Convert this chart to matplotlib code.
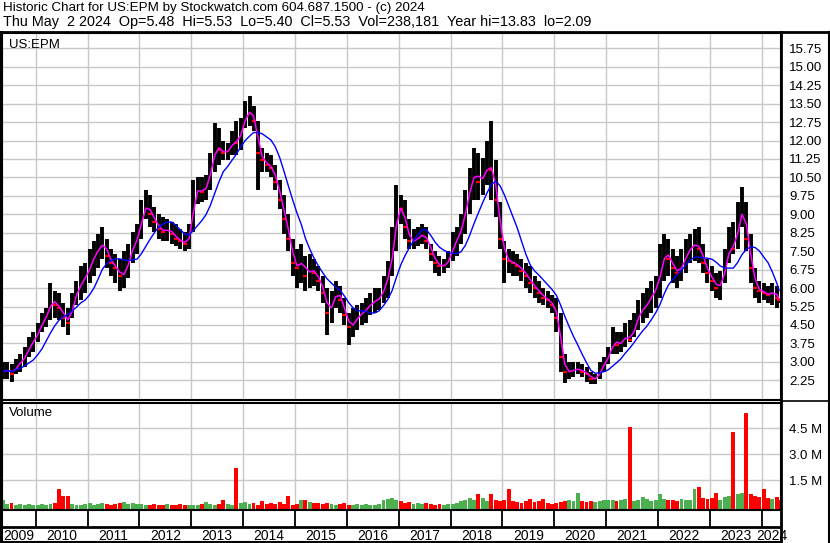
import matplotlib.pyplot as plt
from matplotlib.lines import Line2D
import numpy as np
import pandas as pd

plt.rcParams['font.family'] = ['Liberation Sans', 'DejaVu Sans']

# monthly bars, May 2009 .. May 2024
months = pd.date_range('2009-05-01', '2024-05-01', freq='MS')
last_day = pd.Timestamp('2024-05-02')

hi = [3.0, 3.0, 2.9, 3.1, 3.3, 3.6, 4.0, 4.2,
      4.6, 5.0, 5.2, 6.2, 5.9, 5.8, 5.4, 5.2, 5.8, 6.3, 6.9, 7.0,
      7.6, 7.9, 8.2, 8.5, 8.0, 7.6, 7.4, 7.2, 7.5, 7.8, 8.3, 8.6,
      9.6, 10.0, 9.8, 9.3, 9.0, 8.9, 8.8, 8.7, 8.6, 8.4, 8.3, 8.6,
      10.4, 10.5, 10.5, 10.6, 11.5, 12.7, 12.5, 12.0, 11.9, 12.4, 12.8, 12.9,
      13.6, 13.83, 13.4, 12.8, 11.7, 11.5, 11.4, 11.0, 10.4, 9.8, 9.0, 8.0,
      7.6, 7.8, 7.3, 7.4, 7.2, 6.9, 6.5, 6.0, 5.9, 6.3, 6.1, 5.6,
      5.0, 5.2, 5.3, 5.4, 5.6, 5.8, 6.0, 6.0, 6.5, 7.1, 8.5, 10.2,
      9.8, 9.6, 8.8, 8.4, 8.5, 8.6, 8.5, 7.8, 7.5, 7.3, 7.2, 7.5,
      8.3, 8.5, 9.0, 10.0, 10.9, 11.7, 11.5, 11.3, 12.0, 12.8, 11.2, 9.5,
      7.9, 7.6, 7.5, 7.4, 7.2, 7.0, 6.9, 6.5, 6.3, 6.0, 5.9, 5.7,
      5.6, 5.0, 3.3, 3.0, 3.0, 3.0, 2.9, 2.8, 2.6, 2.5, 3.0, 3.2,
      3.6, 4.4, 4.2, 4.2, 4.6, 4.7, 5.0, 5.5, 5.8, 6.0, 6.3, 6.5,
      7.8, 8.2, 8.0, 7.6, 7.3, 7.6, 8.0, 8.2, 8.4, 8.5, 7.8, 7.2,
      6.9, 6.6, 6.7, 7.6, 8.5, 8.7, 9.5, 10.1, 9.5, 8.2, 6.8, 6.3,
      6.2, 6.1, 6.2, 6.1, 5.53]

lo = [2.3, 2.3, 2.2, 2.5, 2.6, 2.8, 3.2, 3.4,
      3.8, 4.2, 4.4, 4.7, 4.8, 4.7, 4.4, 4.1, 4.8, 5.3, 5.5, 5.8,
      6.2, 6.5, 6.8, 7.2, 6.8, 6.5, 6.2, 5.9, 6.0, 6.4, 7.0, 7.4,
      8.0, 8.8, 8.5, 8.3, 8.0, 7.9, 7.9, 7.8, 7.7, 7.6, 7.5, 7.6,
      8.3, 9.4, 9.5, 9.6, 10.0, 10.7, 11.0, 11.2, 11.2, 11.4, 11.4, 11.6,
      12.5, 12.6, 12.4, 10.0, 10.7, 10.7, 10.5, 10.0, 9.2, 8.2, 7.5, 6.5,
      6.0, 6.2, 5.9, 6.0, 6.1, 5.9, 5.4, 4.1, 4.6, 5.2, 5.0, 4.5,
      3.7, 4.0, 4.3, 4.5, 4.6, 4.9, 5.0, 5.1, 5.4, 5.6, 6.5, 7.5,
      8.6, 8.0, 7.6, 7.6, 7.7, 7.8, 7.6, 7.1, 6.6, 6.5, 6.6, 6.8,
      7.1, 7.3, 7.8, 8.2, 9.0, 9.6, 9.6, 9.8, 10.2, 9.6, 8.9, 7.6,
      6.2, 6.6, 6.5, 6.5, 6.3, 6.0, 5.8, 5.6, 5.4, 5.3, 5.2, 5.0,
      4.2, 2.6, 2.15, 2.3, 2.4, 2.5, 2.4, 2.2, 2.1, 2.09, 2.3, 2.6,
      2.9, 3.3, 3.3, 3.4, 3.6, 3.8, 4.0, 4.3, 4.6, 4.8, 5.0, 5.2,
      5.6, 6.3, 6.5, 6.2, 6.0, 6.3, 6.6, 7.0, 7.1, 7.0, 6.6, 6.2,
      5.9, 5.6, 5.5, 6.2, 7.0, 7.4, 7.6, 8.5, 7.5, 6.2, 5.6, 5.4,
      5.5, 5.4, 5.3, 5.2, 5.40]

cl = [2.6, 2.7, 2.5, 2.9, 3.0, 3.3, 3.7, 3.9,
      4.3, 4.7, 4.9, 5.6, 5.3, 5.2, 4.8, 4.6, 5.5, 5.9, 6.3, 6.5,
      7.0, 7.4, 7.6, 7.9, 7.3, 7.0, 6.8, 6.5, 6.6, 7.3, 7.8, 8.1,
      9.1, 9.4, 9.0, 8.7, 8.4, 8.3, 8.4, 8.2, 8.0, 7.9, 7.8, 8.2,
      9.9, 10.0, 9.9, 10.2, 11.0, 11.8, 11.6, 11.5, 11.6, 12.0, 11.9, 12.5,
      13.1, 13.2, 12.8, 11.5, 11.2, 11.0, 10.9, 10.3, 9.6, 8.8, 8.0, 7.0,
      6.8, 7.2, 6.5, 6.8, 6.6, 6.3, 5.8, 5.0, 5.4, 5.9, 5.5, 4.9,
      4.4, 4.6, 4.9, 5.0, 5.2, 5.4, 5.5, 5.6, 6.1, 6.6, 7.8, 9.3,
      9.2, 8.5, 7.9, 7.9, 8.1, 8.2, 7.9, 7.4, 7.0, 6.9, 6.9, 7.2,
      7.8, 8.1, 8.5, 9.5, 10.2, 10.8, 10.3, 10.6, 11.0, 10.8, 9.6, 8.0,
      7.2, 7.1, 7.0, 6.9, 6.7, 6.5, 6.2, 6.0, 5.8, 5.6, 5.5, 5.3,
      4.8, 3.2, 2.6, 2.6, 2.7, 2.7, 2.6, 2.5, 2.3, 2.3, 2.7, 3.0,
      3.3, 3.9, 3.7, 3.8, 4.1, 3.9, 4.5, 5.0, 5.2, 5.4, 5.8, 6.0,
      6.9, 7.5, 7.2, 6.8, 6.6, 7.0, 7.4, 7.7, 7.8, 7.6, 7.0, 6.6,
      6.3, 6.0, 6.2, 7.0, 7.8, 7.6, 8.8, 9.2, 8.0, 6.8, 6.0, 5.9,
      5.8, 5.7, 5.9, 5.6, 5.53]

# volume in millions of shares
vol = [0.40, 0.15, 0.20, 0.10, 0.15, 0.10, 0.15, 0.10,
       0.10, 0.15, 0.10, 0.15, 0.20, 1.00, 0.63, 0.60, 0.15, 0.10, 0.10, 0.15,
       0.20, 0.10, 0.15, 0.20, 0.15, 0.10, 0.15, 0.20, 0.25, 0.15, 0.20, 0.15,
       0.15, 0.10, 0.10, 0.15, 0.10, 0.10, 0.15, 0.10, 0.10, 0.15, 0.10, 0.10,
       0.10, 0.10, 0.15, 0.25, 0.15, 0.10, 0.15, 0.35, 0.15, 0.10, 2.20, 0.20,
       0.25, 0.15, 0.20, 0.10, 0.30, 0.15, 0.20, 0.15, 0.25, 0.15, 0.63, 0.10,
       0.15, 0.35, 0.40, 0.25, 0.20, 0.20, 0.15, 0.20, 0.15, 0.10, 0.15, 0.20,
       0.10, 0.10, 0.15, 0.10, 0.15, 0.10, 0.10, 0.15, 0.35, 0.45, 0.50, 0.40,
       0.30, 0.20, 0.25, 0.15, 0.20, 0.15, 0.20, 0.15, 0.10, 0.15, 0.10, 0.15,
       0.15, 0.20, 0.30, 0.40, 0.50, 0.35, 0.70, 0.50, 0.30, 0.70, 0.40, 0.30,
       0.35, 1.00, 0.30, 0.25, 0.20, 0.30, 0.45, 0.25, 0.30, 0.45, 0.20, 0.15,
       0.20, 0.25, 0.30, 0.35, 0.30, 0.80, 0.30, 0.25, 0.30, 0.25, 0.30, 0.35,
       0.40, 0.35, 0.30, 0.35, 0.45, 4.56, 0.30, 0.35, 0.55, 0.45, 0.30, 0.35,
       0.70, 0.45, 0.35, 0.40, 0.30, 0.45, 0.40, 0.35, 1.00, 1.15, 0.50, 0.45,
       0.50, 0.75, 0.40, 0.55, 0.60, 4.30, 0.70, 0.75, 5.40, 0.70, 0.60, 0.55,
       1.00, 0.50, 0.45, 0.55, 0.40]

price_ticks = [2.25, 3.00, 3.75, 4.50, 5.25, 6.00, 6.75, 7.50, 8.25, 9.00, 9.75,
               10.50, 11.25, 12.00, 12.75, 13.50, 14.25, 15.00, 15.75]
vol_ticks = [1.5, 3.0, 4.5]
vol_tick_labels = ['1.5 M', '3.0 M', '4.5 M']
years = list(range(2009, 2025))

title1 = 'Historic Chart for US:EPM by Stockwatch.com 604.687.1500 - (c) 2024'
title2 = 'Thu May  2 2024  Op=5.48  Hi=5.53  Lo=5.40  Cl=5.53  Vol=238,181  Year hi=13.83  lo=2.09'


def frac_year(d):
    return d.year + (d.dayofyear - 1) / 365.25


t = np.array([frac_year(min(m + pd.Timedelta(days=14), last_day)) for m in months])
x_left = 2009.35
x_right = 2024.371

W, H = 830, 543
fig = plt.figure(figsize=(W / 100, H / 100), dpi=100, facecolor='w')

def fx(px):
    return px / W

def fy(py):
    return 1 - py / H

grid_c = '#c8c8c8'
ax1 = fig.add_axes([fx(2), fy(400), fx(779), 367 / H])
ax2 = fig.add_axes([fx(2), fy(510), fx(779), 107 / H])
ax3 = fig.add_axes([fx(2), fy(543), fx(779), 33 / H])

# price panel
ax1.vlines(t, lo, hi, color='k', lw=2.8)
cl_arr = np.array(cl)
down = np.r_[False, cl_arr[1:] < cl_arr[:-1]]
ax1.plot(t[down], cl_arr[down], ls='none', marker='_', ms=3, mew=1.6, color='#ff0000')
ma_short = pd.Series(cl).rolling(2, min_periods=1).mean()
ma_long = pd.Series(cl).rolling(8, min_periods=1).mean()
ax1.plot(t, ma_short, color='#ff00ff', lw=1.1)
ax1.plot(t, ma_long, color='#0000ff', lw=1.0)
ax1.set_xlim(x_left, x_right)
ax1.set_ylim(1.449, 16.372)
ax1.set_yticks(price_ticks)
ax1.set_yticklabels(['%.2f' % v for v in price_ticks])
ax1.set_xticks(years[1:])
ax1.set_xticklabels([])
ax1.grid(True, color=grid_c, lw=1)
ax1.set_axisbelow(True)
ax1.text(0.009, 0.985, 'US:EPM', transform=ax1.transAxes, ha='left', va='top', fontsize=9.5)

# volume panel
vfloor = -0.2
cols = np.where(np.r_[True, cl_arr[1:] >= cl_arr[:-1]], '#4caf50', '#ff0000')
ax2.bar(t, np.array(vol) - vfloor, bottom=vfloor, width=1 / 12 * 0.9, color=cols, lw=0)
ax2.set_xlim(x_left, x_right)
ax2.set_ylim(vfloor, 5.96)
ax2.set_yticks(vol_ticks)
ax2.set_yticklabels(vol_tick_labels)
ax2.set_xticks(years[1:])
ax2.set_xticklabels([])
ax2.grid(True, color=grid_c, lw=1)
ax2.set_axisbelow(True)
ax2.text(0.009, 0.96, 'Volume', transform=ax2.transAxes, ha='left', va='top', fontsize=9.5)

for ax in (ax1, ax2):
    ax.yaxis.tick_right()
    ax.tick_params(axis='y', length=0, pad=6, labelsize=9.5)
    ax.tick_params(axis='x', length=0)
    for lab in ax.get_yticklabels():
        lab.set_horizontalalignment('left')
    for s in ax.spines.values():
        s.set_color('k')
        s.set_linewidth(1.5)

# date strip
ax3.set_xlim(x_left, x_right)
ax3.set_ylim(33, 0)
ax3.axis('off')
ax3.vlines(years[1:], 0, 17, color='k', lw=1.3)
ax3.axhline(17, color='k', lw=2)
bounds = [x_left] + years[1:] + [x_right]
for i, yr in enumerate(years):
    ax3.text((bounds[i] + bounds[i + 1]) / 2, 25.5, str(yr), ha='center', va='center',
             fontsize=10, clip_on=False)

# frame lines
def fline(x0, y0, x1, y1, lw):
    fig.add_artist(Line2D([fx(x0), fx(x1)], [fy(y0), fy(y1)], color='k', lw=lw))

fline(0, 32, W, 32, 2)
fline(1, 32, 1, H, 2.2)
fline(781, 32, 781, H, 2)
fline(829, 32, 829, H, 1.5)
fline(0, 542, 781, 542, 1.5)
fline(781, 401, W, 401, 1.2)

fig.text(fx(3), fy(8), title1, ha='left', va='center', fontsize=9.6)
fig.text(fx(3), fy(22), title2, ha='left', va='center', fontsize=10.4)

plt.savefig('out.png', dpi=100)
